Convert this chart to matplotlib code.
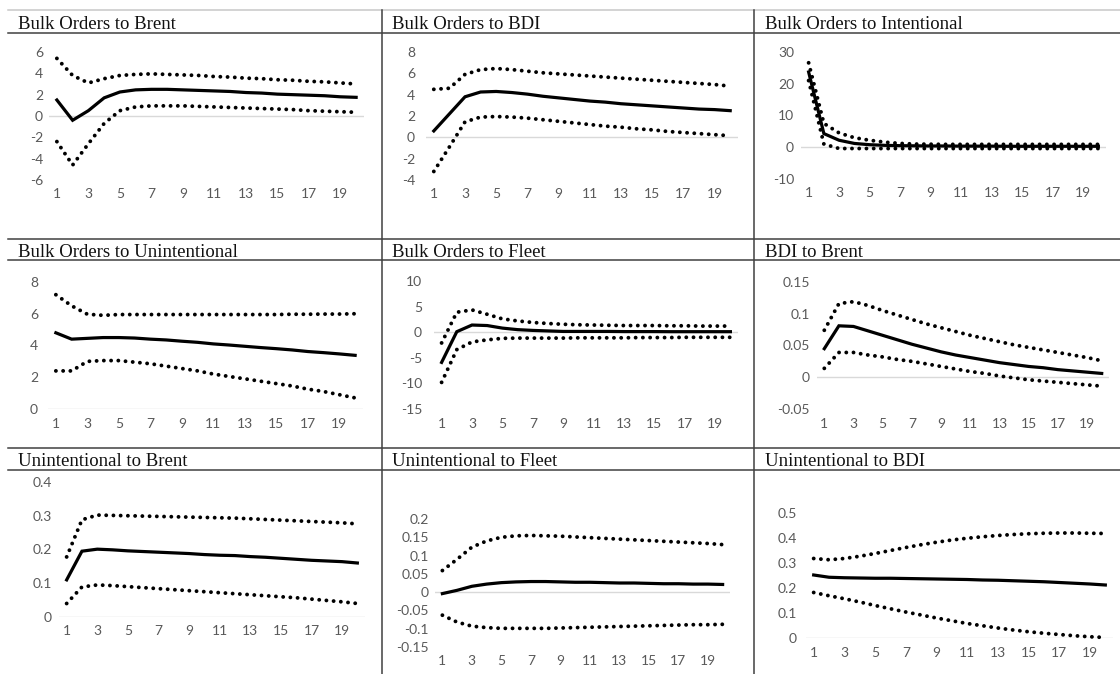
import numpy as np
import matplotlib
matplotlib.use("Agg")
import matplotlib.pyplot as plt
from matplotlib.lines import Line2D

W, H = 1120, 674

periods = list(range(1, 21))
xtick_vals = list(range(1, 20, 2))

titles = [
    "Bulk Orders to Brent", "Bulk Orders to BDI", "Bulk Orders to Intentional",
    "Bulk Orders to Unintentional", "Bulk Orders to Fleet", "BDI to Brent",
    "Unintentional to Brent", "Unintentional to Fleet", "Unintentional to BDI",
]

# impulse responses (mean, upper band, lower band)
brent_mean = [1.5, -0.4, 0.5, 1.7, 2.25, 2.45, 2.5, 2.5, 2.45, 2.4, 2.35, 2.3, 2.2, 2.15, 2.05, 2.0, 1.95, 1.9, 1.8, 1.75]
brent_up = [5.4, 3.8, 3.1, 3.5, 3.8, 3.9, 3.95, 3.9, 3.85, 3.8, 3.7, 3.65, 3.55, 3.5, 3.4, 3.35, 3.25, 3.2, 3.1, 3.0]
brent_lo = [-2.4, -4.6, -2.6, -0.7, 0.5, 0.85, 0.95, 0.95, 0.95, 0.9, 0.85, 0.8, 0.75, 0.7, 0.65, 0.6, 0.5, 0.45, 0.4, 0.35]

bdi_mean = [0.6, 2.2, 3.8, 4.25, 4.3, 4.2, 4.05, 3.85, 3.7, 3.55, 3.4, 3.3, 3.15, 3.05, 2.95, 2.85, 2.75, 2.65, 2.6, 2.5]
bdi_up = [4.5, 4.6, 5.9, 6.35, 6.45, 6.35, 6.2, 6.05, 5.95, 5.85, 5.75, 5.65, 5.55, 5.45, 5.35, 5.25, 5.15, 5.05, 4.95, 4.8]
bdi_lo = [-3.2, -0.9, 1.45, 1.9, 1.95, 1.9, 1.8, 1.65, 1.5, 1.35, 1.2, 1.05, 0.95, 0.8, 0.7, 0.55, 0.45, 0.35, 0.25, 0.15]

int_mean = [23.7, 4.3, 2.2, 1.2, 0.8, 0.6, 0.5, 0.45, 0.4, 0.4, 0.35, 0.35, 0.35, 0.3, 0.3, 0.3, 0.3, 0.3, 0.3, 0.3]
int_up = [26.6, 7.5, 4.5, 3.0, 2.2, 1.6, 1.2, 1.0, 0.95, 0.9, 0.9, 0.9, 0.9, 0.9, 0.9, 0.9, 0.9, 0.9, 0.9, 0.9]
int_lo = [21.0, 1.0, -0.4, -0.4, -0.4, -0.4, -0.4, -0.4, -0.4, -0.4, -0.4, -0.4, -0.4, -0.4, -0.4, -0.4, -0.4, -0.4, -0.4, -0.4]

unint_mean = [4.8, 4.4, 4.45, 4.5, 4.5, 4.47, 4.4, 4.35, 4.27, 4.2, 4.1, 4.03, 3.95, 3.87, 3.8, 3.72, 3.62, 3.55, 3.47, 3.38]
unint_up = [7.2, 6.5, 5.97, 5.9, 5.95, 5.95, 5.95, 5.95, 5.95, 5.95, 5.95, 5.95, 5.95, 5.95, 5.95, 5.97, 5.97, 5.98, 5.98, 6.0]
unint_lo = [2.4, 2.4, 3.0, 3.05, 3.05, 2.95, 2.85, 2.7, 2.55, 2.4, 2.2, 2.05, 1.9, 1.75, 1.6, 1.45, 1.25, 1.1, 0.9, 0.7]

fleet_mean = [-5.9, 0.1, 1.4, 1.3, 0.8, 0.5, 0.35, 0.25, 0.15, 0.15, 0.15, 0.15, 0.12, 0.12, 0.12, 0.1, 0.1, 0.1, 0.1, 0.1]
fleet_up = [-2.1, 3.9, 4.35, 3.5, 2.6, 2.2, 1.9, 1.7, 1.55, 1.45, 1.4, 1.35, 1.3, 1.3, 1.3, 1.25, 1.25, 1.2, 1.2, 1.2]
fleet_lo = [-9.8, -3.4, -1.9, -1.5, -1.2, -1.15, -1.15, -1.15, -1.15, -1.1, -1.1, -1.1, -1.1, -1.05, -1.05, -1.05, -1.0, -1.0, -1.0, -1.0]

bdibrent_mean = [0.045, 0.081, 0.080, 0.073, 0.066, 0.059, 0.052, 0.046, 0.040, 0.035, 0.031, 0.027, 0.023, 0.020, 0.017, 0.015, 0.012, 0.010, 0.008, 0.006]
bdibrent_up = [0.074, 0.116, 0.119, 0.113, 0.105, 0.098, 0.091, 0.084, 0.078, 0.072, 0.066, 0.061, 0.056, 0.051, 0.047, 0.043, 0.039, 0.035, 0.031, 0.026]
bdibrent_lo = [0.014, 0.039, 0.039, 0.035, 0.032, 0.028, 0.025, 0.021, 0.017, 0.013, 0.009, 0.006, 0.002, -0.001, -0.004, -0.006, -0.008, -0.010, -0.012, -0.014]

ubrent_mean = [0.11, 0.195, 0.201, 0.199, 0.196, 0.194, 0.192, 0.190, 0.188, 0.185, 0.183, 0.182, 0.179, 0.177, 0.174, 0.171, 0.168, 0.166, 0.164, 0.160]
ubrent_up = [0.178, 0.288, 0.302, 0.301, 0.300, 0.299, 0.298, 0.297, 0.296, 0.295, 0.294, 0.293, 0.291, 0.289, 0.287, 0.285, 0.283, 0.281, 0.279, 0.276]
ubrent_lo = [0.040, 0.089, 0.095, 0.093, 0.090, 0.087, 0.084, 0.081, 0.078, 0.075, 0.072, 0.069, 0.066, 0.063, 0.060, 0.057, 0.053, 0.049, 0.045, 0.040]

ufleet_mean = [-0.004, 0.005, 0.016, 0.022, 0.026, 0.028, 0.029, 0.029, 0.028, 0.027, 0.027, 0.026, 0.025, 0.025, 0.024, 0.023, 0.023, 0.022, 0.022, 0.021]
ufleet_up = [0.059, 0.09, 0.123, 0.14, 0.15, 0.154, 0.155, 0.154, 0.153, 0.151, 0.149, 0.147, 0.145, 0.143, 0.141, 0.139, 0.137, 0.135, 0.133, 0.130]
ufleet_lo = [-0.063, -0.082, -0.093, -0.097, -0.099, -0.099, -0.099, -0.099, -0.098, -0.097, -0.096, -0.095, -0.094, -0.093, -0.092, -0.091, -0.090, -0.089, -0.089, -0.088]

ubdi_mean = [0.252, 0.243, 0.241, 0.240, 0.239, 0.239, 0.238, 0.237, 0.236, 0.235, 0.234, 0.232, 0.231, 0.229, 0.227, 0.225, 0.222, 0.219, 0.216, 0.212]
ubdi_up = [0.318, 0.313, 0.318, 0.327, 0.338, 0.35, 0.362, 0.373, 0.383, 0.392, 0.399, 0.405, 0.41, 0.414, 0.417, 0.419, 0.42, 0.42, 0.419, 0.418]
ubdi_lo = [0.182, 0.169, 0.157, 0.144, 0.13, 0.117, 0.104, 0.092, 0.08, 0.069, 0.058, 0.049, 0.04, 0.032, 0.025, 0.019, 0.014, 0.009, 0.005, 0.002]

means = [brent_mean, bdi_mean, int_mean, unint_mean, fleet_mean, bdibrent_mean, ubrent_mean, ufleet_mean, ubdi_mean]
uppers = [brent_up, bdi_up, int_up, unint_up, fleet_up, bdibrent_up, ubrent_up, ufleet_up, ubdi_up]
lowers = [brent_lo, bdi_lo, int_lo, unint_lo, fleet_lo, bdibrent_lo, ubrent_lo, ufleet_lo, ubdi_lo]

ytick_lists = [
    [-6, -4, -2, 0, 2, 4, 6],
    [-4, -2, 0, 2, 4, 6, 8],
    [-10, 0, 10, 20, 30],
    [0, 2, 4, 6, 8],
    [-15, -10, -5, 0, 5, 10],
    [-0.05, 0, 0.05, 0.1, 0.15],
    [0, 0.1, 0.2, 0.3, 0.4],
    [-0.15, -0.1, -0.05, 0, 0.05, 0.1, 0.15, 0.2],
    [0, 0.1, 0.2, 0.3, 0.4, 0.5],
]

# plot boxes in pixels: left, right, top, bottom, x-label pad, y-label pad
boxes = [
    (49, 364, 52, 180, 9, 6),
    (426, 738, 52, 180, 9, 11),
    (801, 1106, 52, 179, 9, 7),
    (48, 363, 282, 409, 10, 10),
    (434, 738, 281, 409, 10, 12),
    (817, 1109, 282, 409, 10, 7),
    (59, 365, 482, 617, 9, 7),
    (435, 730, 519, 647, 9, 6),
    (806, 1113, 513, 638, 10, 9),
]

# title positions (left x, baseline y) in pixels
title_pos = [(18, 29), (392, 29), (765, 29),
             (18, 257), (392, 257), (765, 257),
             (18, 466), (392, 466), (765, 466)]

tick_font = "Lato"
grey = "#595959"

fig = plt.figure(figsize=(W / 100, H / 100), dpi=100)

def hline(y, x0=8, x1=W, color="#404040", lw=1.1):
    fig.add_artist(Line2D([x0 / W, x1 / W], [1 - y / H, 1 - y / H], color=color, lw=lw))

def vline(x, y0, y1, color="#404040", lw=1.1):
    fig.add_artist(Line2D([x / W, x / W], [1 - y0 / H, 1 - y1 / H], color=color, lw=lw))

# table grid
hline(10, color="#c8c8c8")
for y in [33, 239, 260, 448, 470]:
    hline(y)
vline(382, 10, H)
vline(754, 10, H)

dots = dict(color="black", lw=2.8, linestyle=(0, (0.01, 1.85)),
            dash_capstyle="round", zorder=3, clip_on=False)

for i in range(9):
    l, r, t, b, xpad, ypad = boxes[i]
    ax = fig.add_axes([l / W, 1 - b / H, (r - l) / W, (b - t) / H])
    yt = ytick_lists[i]
    ax.set_xlim(0.5, 20.5)
    ax.set_ylim(yt[0], yt[-1])
    ax.axhline(0, color="#d9d9d9", lw=1.0, zorder=1)
    ax.plot(periods, uppers[i], **dots)
    ax.plot(periods, lowers[i], **dots)
    ax.plot(periods, means[i], color="black", lw=2.3, solid_joinstyle="miter",
            zorder=4, clip_on=False)
    for s in ax.spines.values():
        s.set_visible(False)
    ax.set_xticks(xtick_vals)
    ax.set_xticklabels([str(v) for v in xtick_vals])
    ax.set_yticks(yt)
    ax.set_yticklabels(["{:g}".format(v) for v in yt])
    ax.tick_params(axis="x", length=0, pad=xpad * 0.72 - 1, colors=grey, labelsize=10)
    ax.tick_params(axis="y", length=0, pad=ypad * 0.72, colors=grey, labelsize=10)
    for lab in ax.get_xticklabels() + ax.get_yticklabels():
        lab.set_fontfamily(tick_font)
    ax.patch.set_visible(False)

    tx, ty = title_pos[i]
    fig.text(tx / W, 1 - ty / H, titles[i], family="Liberation Serif",
             fontsize=13.5, color="#111111", va="baseline", ha="left")

fig.savefig("out.png", dpi=100)
